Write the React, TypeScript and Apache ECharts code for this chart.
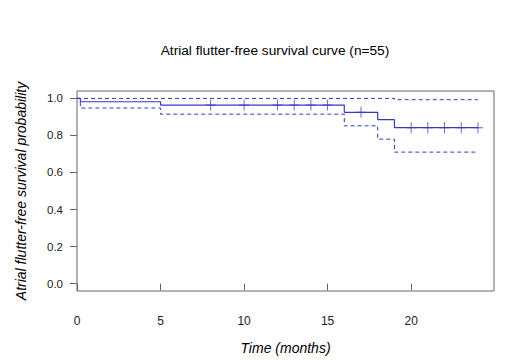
import React, { useEffect, useRef } from "react";
import * as echarts from "echarts";

const TITLE = "Atrial flutter-free survival curve (n=55)";
const X_NAME = "Time (months)";
const Y_NAME = "Atrial flutter-free survival probability";

const xTicks = [0, 5, 10, 15, 20];
const yTicks = [0, 0.2, 0.4, 0.6, 0.8, 1.0];

// Kaplan-Meier step points [time, survival]
const survTimes = [0, 0.2, 5, 16, 18, 19, 24];
const survValues = [1.0, 0.982, 0.964, 0.925, 0.885, 0.842, 0.842];

const upperTimes = [0, 19, 24];
const upperValues = [1.0, 0.993, 0.993];

const lowerTimes = [0, 0.2, 5, 16, 18, 19, 24];
const lowerValues = [1.0, 0.948, 0.915, 0.852, 0.78, 0.71, 0.71];

// censor marks
const censorTimes = [8, 10, 12, 13, 14, 15, 17, 20, 21, 22, 23, 24];
const censorValues = [0.964, 0.964, 0.964, 0.964, 0.964, 0.964, 0.925, 0.842, 0.842, 0.842, 0.842, 0.842];

const BLUE = "#3838c8";
const AXIS = "#666666";
const FONT = "Liberation Sans";

export default function App() {
  const ref = useRef<HTMLDivElement>(null);
  useEffect(() => {
    if (!ref.current) return;
    const chart = echarts.init(ref.current, null, { renderer: "svg" });
    const zip = (xs: number[], ys: number[]) => xs.map((x, i) => [x, ys[i]]);
    chart.setOption({
      animation: false,
      backgroundColor: "#ffffff",
      title: {
        text: TITLE,
        left: 270,
        top: 38,
        textAlign: "center",
        textStyle: { fontFamily: FONT, fontSize: 13.7, fontWeight: "normal", color: "#000" },
      },
      grid: {
        left: 77,
        right: 16,
        top: 91,
        bottom: 66,
        show: true,
        borderColor: AXIS,
        borderWidth: 1,
        backgroundColor: "transparent",
      },
      xAxis: {
        type: "value",
        min: 0,
        max: 24.96,
        name: X_NAME,
        nameLocation: "middle",
        nameGap: 50,
        nameTextStyle: { fontFamily: FONT, fontSize: 14, fontStyle: "italic", color: "#000" },
        axisLine: { show: false },
        splitLine: { show: false },
        axisTick: { show: true, length: 7, customValues: xTicks, lineStyle: { color: AXIS } },
        axisLabel: {
          customValues: xTicks,
          margin: 24,
          fontFamily: FONT,
          fontSize: 12,
          color: "#222",
        },
      },
      yAxis: {
        type: "value",
        min: -0.04,
        max: 1.04,
        name: Y_NAME,
        nameLocation: "middle",
        nameGap: 49,
        nameTextStyle: { fontFamily: FONT, fontSize: 14, fontStyle: "italic", color: "#000" },
        axisLine: { show: false },
        splitLine: { show: false },
        axisTick: { show: true, length: 7, customValues: yTicks, lineStyle: { color: AXIS } },
        axisLabel: {
          customValues: yTicks,
          margin: 14,
          fontFamily: FONT,
          fontSize: 11.5,
          color: "#222",
          formatter: (v: number) => v.toFixed(1),
        },
      },
      series: [
        {
          type: "line",
          step: "end",
          data: zip(survTimes, survValues),
          symbol: "none",
          lineStyle: { color: BLUE, width: 1.2 },
        },
        {
          type: "line",
          step: "end",
          data: zip(upperTimes, upperValues),
          symbol: "none",
          lineStyle: { color: BLUE, width: 1, type: [4, 3] },
        },
        {
          type: "line",
          step: "end",
          data: zip(lowerTimes, lowerValues),
          symbol: "none",
          lineStyle: { color: BLUE, width: 1, type: [4, 3] },
        },
        {
          type: "scatter",
          data: zip(censorTimes, censorValues),
          symbol: "path://M5,0L5,10M0,5L10,5",
          symbolSize: [10, 11],
          itemStyle: { color: "transparent", borderColor: BLUE, borderWidth: 1 },
        },
      ],
    });
    return () => chart.dispose();
  }, []);
  return <div ref={ref} style={{ width: 510, height: 360, position: "absolute", left: 0, top: 0 }} />;
}
